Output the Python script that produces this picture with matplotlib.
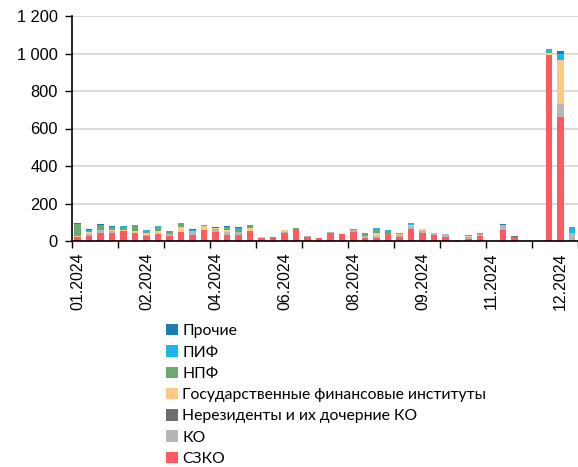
import matplotlib
matplotlib.use("Agg")
import matplotlib.pyplot as plt
import numpy as np
from matplotlib.ticker import FuncFormatter, FixedLocator
from matplotlib.patches import Patch

# ---- data ----
series_names = ["СЗКО", "КО", "Нерезиденты и их дочерние КО",
                "Государственные финансовые институты", "НПФ", "ПИФ", "Прочие"]
colors = ["#FF5A5F", "#B6B6B6", "#6E6E6E", "#FFC985", "#6CA96E", "#1BB7E9", "#1A7DB4"]

szko = [20, 26, 44, 44, 51, 41, 27, 35, 28, 50, 32, 58, 48, 32, 32, 53, 14, 19, 44, 58,
        23, 14, 44, 37, 48, 14, 16, 37, 23, 63, 44, 32, 21, 5, 9, 27, 2, 58, 23, 0,
        0, 992, 660, 5]
ko = [4, 9, 14, 7, 0, 0, 7, 0, 7, 0, 21, 3, 14, 14, 16, 0, 2, 0, 4, 0,
      3, 0, 2, 0, 12, 12, 12, 3, 7, 18, 10, 10, 14, 0, 10, 12, 0, 25, 0, 0,
      0, 0, 70, 38]
nonres = [0, 0, 0, 0, 0, 0, 0, 0, 0, 0, 0, 0, 0, 0, 0, 0, 0, 0, 0, 0,
          0, 0, 0, 0, 0, 0, 0, 0, 0, 0, 0, 0, 0, 0, 0, 0, 0, 0, 3, 0,
          2, 0, 0, 0]
gov = [2, 14, 0, 10, 7, 10, 7, 18, 0, 26, 0, 20, 6, 14, 0, 14, 3, 0, 9, 0,
       0, 0, 0, 0, 0, 0, 14, 0, 10, 7, 10, 0, 0, 0, 10, 0, 0, 0, 0, 0,
       0, 10, 235, 0]
npf = [63, 5, 23, 12, 14, 30, 12, 23, 14, 18, 0, 0, 3, 10, 18, 12, 0, 0, 0, 9,
       0, 0, 0, 0, 0, 14, 23, 16, 0, 0, 0, 0, 2, 0, 0, 0, 0, 0, 0, 2,
       0, 14, 0, 0]
pif = [2, 5, 5, 3, 6, 2, 5, 3, 3, 3, 7, 5, 0, 5, 4, 5, 2, 2, 3, 0,
       2, 2, 2, 0, 3, 5, 3, 3, 3, 7, 2, 0, 0, 0, 5, 3, 0, 5, 0, 0,
       0, 6, 35, 30]
other = [4, 3, 5, 3, 0, 0, 0, 0, 0, 0, 3, 0, 3, 3, 3, 2, 0, 0, 0, 0,
         0, 0, 2, 0, 0, 0, 0, 0, 0, 0, 0, 0, 0, 0, 0, 0, 0, 5, 0, 0,
         0, 3, 11, 4]

tick_labels = ["01.2024", "02.2024", "04.2024", "06.2024",
               "08.2024", "09.2024", "11.2024", "12.2024"]
label_every = 6
tickmark_every = 4

series = [szko, ko, nonres, gov, npf, pif, other]

# ---- figure ----
plt.rcParams['font.family'] = ['Liberation Sans', 'DejaVu Sans']
fig = plt.figure(figsize=(5.78, 4.67), dpi=100)
ax = fig.add_axes([71.7 / 578, (467 - 241) / 467, (577.7 - 71.7) / 578, (241 - 16) / 467])

n = len(szko)
x = np.arange(n)
bottom = np.zeros(n)
for vals, c in zip(series, colors):
    v = np.array(vals, dtype=float)
    ax.bar(x, v, width=0.55, bottom=bottom, color=c, linewidth=0, zorder=3)
    bottom += v

ax.set_xlim(-0.5, n - 0.5)
ax.set_ylim(0, 1200)
ax.set_yticks(np.arange(0, 1201, 200))
ax.yaxis.set_major_formatter(FuncFormatter(lambda v, p: f"{int(v):,}".replace(",", " ")))
ax.grid(axis='y', color='#D4D4D4', linewidth=1.2, zorder=0)
ax.tick_params(axis='y', length=5, width=1, direction='out', labelsize=11.8, pad=5, colors='black')

ax.set_xticks(np.arange(0, n, label_every))
ax.set_xticklabels(tick_labels, rotation=90, fontsize=11.5)
ax.tick_params(axis='x', which='major', length=0, pad=8)
ax.xaxis.set_minor_locator(FixedLocator(np.arange(-0.5, n, tickmark_every)))
ax.tick_params(axis='x', which='minor', length=5, width=1, direction='out')

for s in ['top', 'right']:
    ax.spines[s].set_visible(False)
for s in ['left', 'bottom']:
    ax.spines[s].set_color('black')
    ax.spines[s].set_linewidth(1.2)
ax.spines['bottom'].set_zorder(4)

handles = [Patch(facecolor=c, edgecolor='none') for c in colors]
leg = fig.legend(handles[::-1], series_names[::-1], loc='upper left',
                 bbox_to_anchor=(166 / 578, (467 - 324) / 467),
                 frameon=False, handlelength=0.75, handleheight=0.75,
                 handletextpad=0.3, labelspacing=0.45, borderpad=0, borderaxespad=0,
                 prop={'family': ['Lato', 'DejaVu Sans'], 'size': 11.3})

fig.savefig("out.png", dpi=100)
